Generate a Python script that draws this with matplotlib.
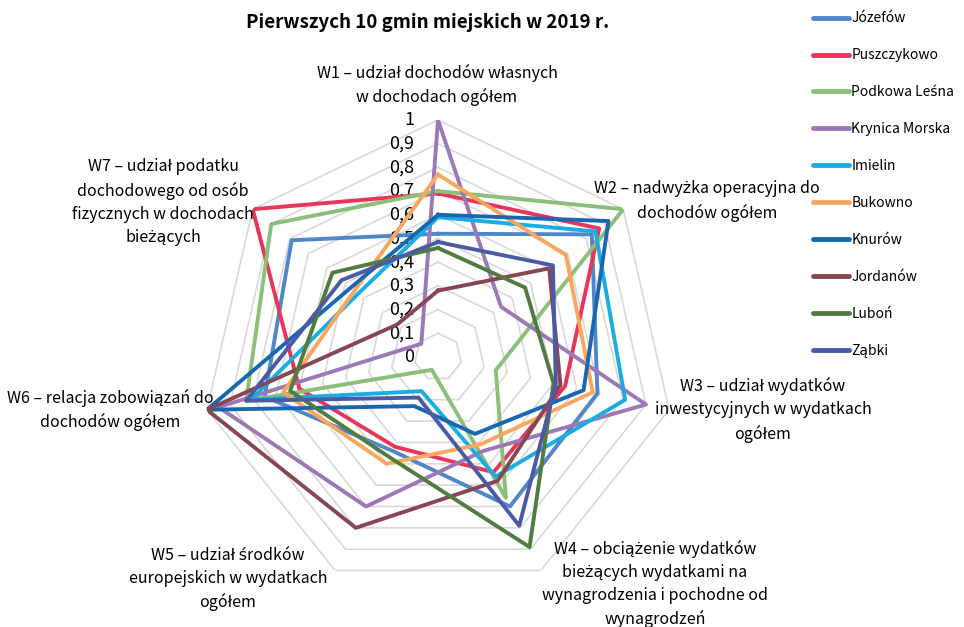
import matplotlib
matplotlib.use('Agg')
import matplotlib.pyplot as plt
import matplotlib.transforms as mtrans
from matplotlib.lines import Line2D
import numpy as np

plt.rcParams['font.family'] = ['Noto Sans CJK SC', 'DejaVu Sans']

# wskazniki (osie wykresu)
categories = ['W1 – udział dochodów własnych\nw dochodach ogółem',
              'W2 – nadwyżka operacyjna do\ndochodów ogółem',
              'W3 – udział wydatków\ninwestycyjnych w wydatkach\nogółem',
              'W4 – obciążenie wydatków\nbieżących wydatkami na\nwynagrodzenia i pochodne od\nwynagrodzeń',
              'W5 – udział środków\neuropejskich w wydatkach\nogółem',
              'W6 – relacja zobowiązań do\ndochodów ogółem',
              'W7 – udział podatku\ndochodowego od osób\nfizycznych w dochodach\nbieżących']

names = ['Józefów', 'Puszczykowo', 'Podkowa Leśna', 'Krynica Morska', 'Imielin',
         'Bukowno', 'Knurów', 'Jordanów', 'Luboń', 'Ząbki']

jozefow     = [0.52, 0.83, 0.69, 0.70, 0.44, 0.75, 0.79]
puszczykowo = [0.69, 0.87, 0.55, 0.54, 0.42, 0.60, 1.00]
podkowa     = [0.70, 1.00, 0.25, 0.66, 0.06, 0.83, 0.90]
krynica     = [1.00, 0.34, 0.90, 0.44, 0.70, 0.95, 0.09]
imielin     = [0.59, 0.85, 0.81, 0.56, 0.16, 0.81, 0.43]
bukowno     = [0.77, 0.69, 0.67, 0.41, 0.50, 0.67, 0.45]
knurow      = [0.60, 0.92, 0.63, 0.36, 0.23, 1.00, 0.47]
jordanow    = [0.28, 0.60, 0.53, 0.58, 0.80, 1.00, 0.22]
lubon       = [0.46, 0.47, 0.50, 0.89, 0.47, 0.64, 0.57]
zabki       = [0.485, 0.62, 0.51, 0.79, 0.19, 0.83, 0.52]

series = [jozefow, puszczykowo, podkowa, krynica, imielin,
          bukowno, knurow, jordanow, lubon, zabki]
colors = ['#4F87C8', '#E8365A', '#8CBF79', '#9B79B7', '#19ADE3',
          '#F9A75E', '#1767B1', '#864752', '#517B3F', '#4A5AA6']

ticks = [0, 0.1, 0.2, 0.3, 0.4, 0.5, 0.6, 0.7, 0.8, 0.9, 1]
tick_labels = ['0', '0,1', '0,2', '0,3', '0,4', '0,5', '0,6', '0,7', '0,8', '0,9', '1']

W, H = 964, 627
def fx(x):
    return x / W
def fy(y):
    return 1 - y / H

fig = plt.figure(figsize=(W / 100, H / 100), dpi=100)
ax = fig.add_axes([fx(201), fy(594), 474 / W, 474 / H], projection='polar')
ax.set_theta_offset(np.pi / 2)
ax.set_theta_direction(-1)
ax.set_ylim(0, 1)
ax.grid(False)
ax.spines['polar'].set_visible(False)
ax.set_xticks([])
ax.set_yticks([])
ax.patch.set_alpha(0)

n = len(categories)
theta = np.linspace(0, 2 * np.pi, n + 1)

# siatka (siedmiokaty)
for r in ticks[1:]:
    ax.plot(theta, [r] * (n + 1), color='#D9D9D9', lw=1.2, zorder=1)

# serie
for vals, c in zip(series, colors):
    ax.plot(theta, vals + [vals[0]], color=c, lw=2.8, zorder=3)

# etykiety osi wartosci
off = mtrans.offset_copy(ax.transData, fig=fig, x=-24, y=0, units='dots')
for t, lab in zip(ticks, tick_labels):
    ax.text(0, t, lab, transform=off, ha='right', va='center', fontsize=13, zorder=2)

# etykiety kategorii
label_pos = [(437, 85), (707, 201), (763, 410), (655, 584), (228, 579), (110, 410), (163, 202)]
for txt, (x, y) in zip(categories, label_pos):
    fig.text(fx(x), fy(y), txt, ha='center', va='center', fontsize=11.5, linespacing=1.45)

fig.text(fx(428), fy(22), 'Pierwszych 10 gmin miejskich w 2019 r.', ha='center', va='center',
         fontsize=13.5, fontweight='bold')

handles = [Line2D([], [], color=c, lw=3.5, solid_capstyle='round') for c in colors]
fig.legend(handles, names, loc='upper left', bbox_to_anchor=(fx(800), fy(-1)), frameon=False,
           fontsize=10, handlelength=2.6, handletextpad=0.2, labelspacing=1.65)

fig.savefig('out.png', dpi=100)
